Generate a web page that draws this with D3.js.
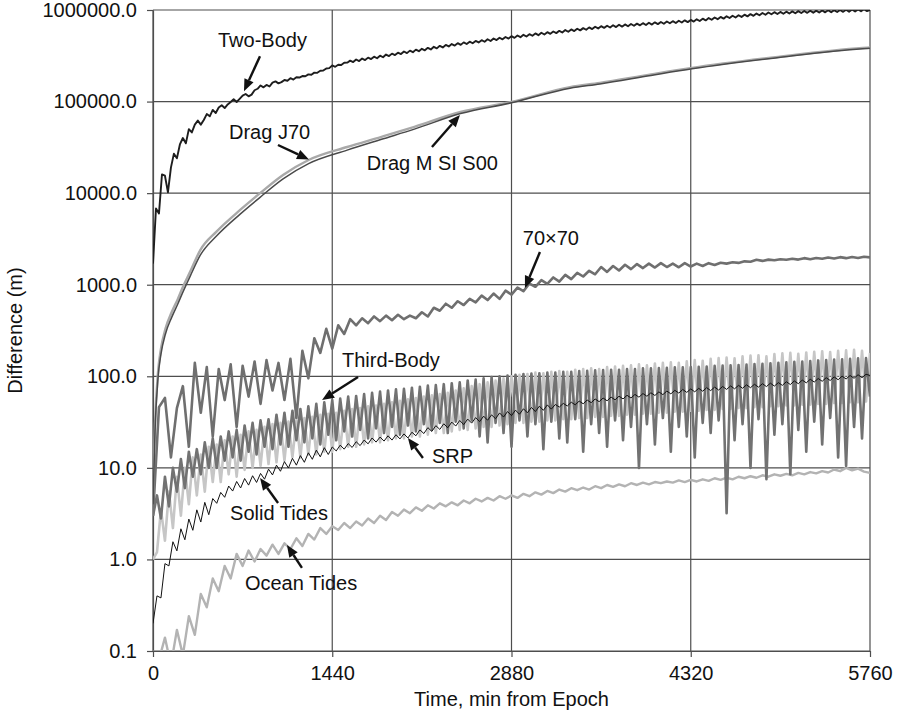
<!DOCTYPE html>
<html>
<head>
<meta charset="utf-8">
<script src="https://cdn.jsdelivr.net/npm/d3@7"></script>
<style>
  body { margin: 0; background: #fff; }
  svg { display: block; }
  text { font-family: "Liberation Sans", Arial, Helvetica, sans-serif; fill: #111; }
</style>
</head>
<body>
<svg id="chart" width="900" height="716"></svg>
<script>
// ---- axis ticks ----
const xTicks = [0, 1440, 2880, 4320, 5760];
const yTicks = [0.1, 1, 10, 100, 1000, 10000, 100000, 1000000];

// ---- sampling grids (minutes from epoch) ----
const twoBodyTimes = d3.range(0, 5761, 24); // 241 samples
const fastTimes = d3.range(0, 5761, 32);    // 181 samples
const orbitTimes = d3.range(0, 5761, 48);   // 121 samples

// ---- Two-Body (twoBodyTimes) ----
const twoBody = [
  1.7e3, 6.8e3, 6.0e3, 16e3, 15.5e3, 10.2e3, 19e3, 27e3, 24e3, 34e3,
  40e3, 35e3, 50e3, 46e3, 56e3, 62e3, 56e3, 63e3, 73e3, 69e3,
  81e3, 75e3, 86e3, 91e3, 85e3, 93e3, 99e3, 106e3, 99e3, 107e3,
  116e3, 121e3, 114e3, 119e3, 133e3, 138e3, 150e3, 143e3, 152e3, 146e3,
  161e3, 166e3, 158e3, 163e3, 172e3, 169e3, 180e3, 174e3, 184e3, 183e3,
  190e3, 189e3, 198e3, 196e3, 207e3, 206e3, 217e3, 218e3, 230e3, 232e3,
  248e3, 240e3, 252e3, 251e3, 265e3, 266e3,
  280e3, 270e3, 288e3, 277e3, 295e3, 284e3, 302e3, 291e3, 309e3, 297e3,
  317e3, 305e3, 326e3, 314e3, 334e3, 322e3, 342e3, 330e3, 352e3, 338e3,
  360e3, 346e3, 369e3, 355e3, 377e3, 363e3, 386e3, 371e3, 396e3, 381e3,
  406e3, 390e3, 415e3, 400e3, 425e3, 409e3, 434e3, 416e3, 443e3, 425e3,
  451e3, 433e3, 459e3, 442e3, 468e3, 450e3, 479e3, 459e3, 488e3, 469e3,
  498e3, 478e3, 507e3, 488e3, 518e3, 496e3, 527e3, 505e3, 536e3, 514e3,
  545e3, 523e3, 555e3, 531e3, 564e3, 540e3, 573e3, 549e3, 582e3, 559e3,
  592e3, 568e3, 604e3, 579e3, 614e3, 589e3, 624e3, 599e3, 634e3, 608e3,
  646e3, 619e3, 656e3, 629e3, 666e3, 638e3, 673e3, 644e3, 681e3, 651e3,
  689e3, 658e3, 696e3, 665e3, 703e3, 673e3, 710e3, 680e3, 718e3, 686e3,
  726e3, 693e3, 733e3, 701e3, 740e3, 708e3, 748e3, 716e3, 755e3, 722e3,
  764e3, 730e3, 771e3, 737e3, 779e3, 747e3, 791e3, 759e3, 804e3, 770e3,
  816e3, 782e3, 828e3, 794e3, 841e3, 805e3, 853e3, 817e3, 865e3, 829e3,
  877e3, 840e3, 890e3, 852e3, 902e3, 864e3, 914e3, 876e3, 927e3, 887e3,
  939e3, 898e3, 947e3, 904e3, 953e3, 910e3, 959e3, 916e3, 966e3, 921e3,
  972e3, 927e3, 977e3, 931e3, 981e3, 935e3, 985e3, 939e3, 989e3, 943e3,
  993e3, 947e3, 997e3, 951e3, 1001e3, 955e3, 1007e3, 959e3, 1011e3, 964e3,
  1016e3, 968e3, 1021e3, 973e3, 1000e3];

// ---- Drag models ----
const dragTime = [0, 16, 40, 64, 100, 150, 200, 240, 300, 380, 510, 700, 860, 1045, 1250, 1560, 1830, 2100,
  2470, 2880, 3350, 3590, 4000, 4330, 5000, 5700, 5760];
const dragJ70 = [5, 30, 110, 200, 330, 500, 700, 945, 1400, 2390, 3800, 6550, 10000, 15800, 23000, 31900, 41000,
  53000, 77000, 99000, 144000, 160000, 198000, 233000, 305000, 385000, 390000];
const dragMSIS00 = [4, 25, 95, 175, 290, 440, 620, 830, 1250, 2100, 3400, 5900, 9000, 14300, 21000, 29500, 38500,
  50000, 74000, 97000, 140000, 156000, 193000, 228000, 300000, 378000, 382000];

// ---- 70x70 gravity field (orbitTimes) ----
const gravity70 = [3, 46, 58, 13, 45, 78, 17, 140, 40, 126, 22, 120, 55, 135, 28, 130, 60, 145, 50, 150,
  70, 140, 55, 155, 35, 190, 95, 260, 180, 330, 200, 360, 290, 420, 360, 430, 380, 450, 400, 460,
  410, 470, 420, 460, 430, 500, 450, 560, 520, 620, 560, 660, 600, 700, 640, 760, 680, 800, 700, 860,
  780, 930, 850, 1030, 950, 1120, 1020, 1200, 1080, 1280, 1150, 1350, 1230, 1420, 1300, 1560, 1380, 1600, 1430, 1650,
  1480, 1680, 1520, 1700, 1540, 1720, 1560, 1700, 1550, 1720, 1580, 1700, 1600, 1720, 1640, 1740, 1700, 1760, 1730, 1800,
  1780, 1870, 1820, 1880, 1850, 1900, 1870, 1920, 1880, 1950, 1900, 1960, 1920, 1980, 1930, 2000, 1950, 2010, 1960, 2020,
  1990];

// ---- Third-Body (fastTimes) ----
const thirdBody = [3, 5, 2.8, 8, 3.8, 10, 5.5, 12.5, 6, 15,
  8, 16, 8.5, 19, 10, 21, 10, 22, 12, 25,
  13, 26, 12, 29, 15, 31, 14, 33, 17, 34,
  16, 38, 18, 40, 17, 42, 20, 44, 19, 47,
  21, 50, 18, 52, 23, 55, 20, 57, 25, 60,
  22, 61, 26, 64, 21, 66, 27, 68, 24, 70,
  28, 72, 23, 73, 29, 75, 25, 77, 30, 79,
  26, 80, 31, 82, 24, 84, 32, 86, 27, 90,
  33, 92, 22, 95, 19, 98, 31, 100, 24, 102,
  17, 104, 33, 106, 22, 107, 30, 108, 16, 110,
  32, 110, 21, 112, 19, 112, 34, 114, 15, 115,
  30, 116, 24, 117, 17, 118, 33, 118, 20, 120,
  28, 120, 10, 122, 30, 122, 18, 123, 35, 124,
  15, 125, 28, 125, 22, 126, 13, 127, 31, 128,
  24, 130, 33, 131, 3.2, 132, 20, 133, 30, 134,
  10, 136, 34, 137, 7.5, 139, 23, 140, 30, 142,
  8.5, 144, 26, 145, 15, 147, 32, 149, 18, 150,
  35, 152, 13, 153, 10.5, 155, 28, 157, 21, 158,
  60];

// ---- Solid Tides (fastTimes) ----
const solidTides = [1.0, 1.2, 3.5, 1.6, 5.5, 2.2, 8, 3, 10, 4,
  13, 5, 14, 5.5, 17, 7, 18, 7, 20, 8.5,
  22, 8, 23, 9.5, 25, 10, 26, 10.5, 28, 11,
  30, 11.5, 31, 12, 32, 13, 33, 13, 35, 14,
  36, 14, 38, 15, 39, 15, 40, 16, 42, 17,
  44, 17, 45, 18, 47, 19, 48, 19, 50, 20,
  52, 21, 54, 21, 56, 22, 58, 22, 60, 23,
  62, 24, 64, 24, 66, 25, 70, 26, 74, 26,
  78, 27, 82, 28, 86, 28, 90, 29, 95, 30,
  100, 31, 104, 31, 106, 32, 110, 32, 108, 33,
  112, 33, 114, 34, 112, 34, 118, 35, 120, 35,
  122, 36, 120, 36, 126, 37, 128, 37, 130, 38,
  132, 38, 135, 39, 132, 39, 138, 40, 140, 40,
  142, 41, 140, 41, 146, 42, 150, 42, 148, 43,
  155, 43, 158, 44, 160, 44, 157, 45, 165, 45,
  168, 46, 170, 46, 165, 47, 175, 47, 178, 48,
  180, 48, 176, 49, 182, 49, 185, 50, 188, 50,
  184, 51, 190, 51, 192, 52, 195, 52, 190, 53,
  180];

// ---- Solar radiation pressure (fastTimes) ----
const srp = [0.2, 0.40, 0.38, 0.90, 0.85, 1.56, 1.24, 2.16, 1.64, 2.76,
  2.08, 3.48, 2.56, 4.2, 3.08, 4.62, 4.1, 5.39, 4.77, 6.33,
  5.58, 7.1, 6.03, 7.65, 6.48, 8.2, 6.93, 8.69, 7.52, 9.68,
  8.37, 10.7, 9.18, 11.7, 9.95, 12.7, 10.7, 13.6, 11.5, 14.6,
  12.4, 15.6, 13.2, 16.6, 14.0, 16.9, 15.3, 17.7, 16.0, 18.4,
  16.7, 19.3, 17.5, 20.1, 18.3, 21.2, 19.1, 21.7, 19.6, 22.4,
  20.1, 23.0, 20.7, 23.5, 21.2, 24.5, 22.4, 26.0, 23.7, 27.5,
  25.0, 28.9, 26.3, 30.3, 27.4, 31.6, 28.6, 32.9, 29.7, 34.1,
  30.8, 35.4, 32.0, 36.7, 33.1, 37.9, 34.4, 39.8, 35.9, 41.2,
  37.2, 42.7, 38.5, 44.2, 39.9, 45.7, 41.2, 47.2, 42.5, 48.7,
  43.8, 49.2, 46.1, 50.6, 47.4, 52.1, 48.8, 53.6, 50.1, 55.0,
  51.5, 56.5, 52.8, 57.9, 54.0, 59.3, 55.3, 60.6, 56.6, 62.0,
  57.9, 63.4, 59.1, 64.8, 60.5, 66.1, 61.7, 67.6, 63.0, 69.0,
  64.3, 70.3, 65.6, 71.8, 66.7, 72.8, 67.7, 73.9, 68.7, 75.1,
  69.8, 76.2, 70.8, 77.4, 71.9, 78.5, 73.0, 79.6, 74.0, 80.7,
  75.1, 81.8, 76.1, 83.0, 77.2, 84.1, 78.2, 85.3, 79.6, 87.2,
  81.3, 89.0, 83.0, 90.9, 84.8, 92.8, 86.5, 94.6, 88.2, 96.5,
  90.0, 98.4, 91.7, 100.3, 93.4, 102.1, 95.1, 104, 96.6, 105.2,
  102];

// ---- Ocean Tides (orbitTimes) ----
const oceanTides = [0.10, 0.08, 0.14, 0.07, 0.17, 0.09, 0.24, 0.15, 0.42, 0.3,
  0.62, 0.45, 0.85, 0.62, 1.15, 0.85, 1.25, 0.95, 1.3, 1.1,
  1.45, 1.15, 1.5, 1.3, 1.7, 1.4, 1.9, 1.65, 2.2, 1.9,
  2.3, 2.1, 2.5, 2.2, 2.6, 2.35, 2.8, 2.5, 3.0, 2.7,
  3.3, 3.0, 3.5, 3.2, 3.7, 3.4, 3.9, 3.6, 4.1, 3.8,
  4.2, 3.9, 4.4, 4.1, 4.6, 4.3, 4.7, 4.4, 4.9, 4.6,
  5.0, 4.7, 5.2, 4.9, 5.4, 5.1, 5.6, 5.3, 5.8, 5.5,
  6.0, 5.7, 6.1, 5.8, 6.3, 6.0, 6.5, 6.2, 6.6, 6.3,
  6.8, 6.5, 6.9, 6.6, 7.0, 6.8, 7.1, 6.9, 7.3, 7.0,
  7.4, 7.1, 7.5, 7.2, 7.7, 7.4, 7.8, 7.5, 8.0, 7.7,
  8.1, 7.8, 8.3, 8.0, 8.5, 8.2, 8.6, 8.3, 8.8, 8.5,
  9.0, 8.7, 9.2, 8.9, 9.6, 9.2, 10.0, 9.4, 9.8, 9.1,
  8.8];

// ---- layout ----
const svg = d3.select("#chart");
const plot = { left: 153, right: 870, top: 10, bottom: 651 };
const FONT = 20;
const GRID = "#4e4e4e";

const x = d3.scaleLinear().domain([0, 5760]).range([plot.left, plot.right]);
const y = d3.scaleLog().domain([0.1, 1e6]).range([plot.bottom, plot.top]);

svg.append("defs").append("clipPath").attr("id", "plot-clip")
  .append("rect")
  .attr("x", plot.left).attr("y", plot.top)
  .attr("width", plot.right - plot.left).attr("height", plot.bottom - plot.top);

// grid
const grid = svg.append("g").attr("stroke", GRID).attr("stroke-width", 1.2);
grid.selectAll("line.h").data(yTicks).join("line")
  .attr("x1", plot.left).attr("x2", plot.right)
  .attr("y1", d => y(d)).attr("y2", d => y(d));
grid.selectAll("line.v").data(xTicks).join("line")
  .attr("y1", plot.top).attr("y2", plot.bottom)
  .attr("x1", d => x(d)).attr("x2", d => x(d));

// axes
const yAxis = svg.append("g").attr("transform", `translate(${plot.left},0)`)
  .call(d3.axisLeft(y).tickValues(yTicks).tickFormat(d3.format(".1f")).tickSize(6).tickSizeOuter(0).tickPadding(10));
const xAxis = svg.append("g").attr("transform", `translate(0,${plot.bottom})`)
  .call(d3.axisBottom(x).tickValues(xTicks).tickFormat(d3.format("d")).tickSize(6).tickSizeOuter(0).tickPadding(9));
[yAxis, xAxis].forEach(g => {
  g.select(".domain").attr("stroke", GRID).attr("stroke-width", 1.2);
  g.selectAll(".tick line").attr("stroke", GRID).attr("stroke-width", 1.2);
  g.selectAll(".tick text").attr("font-size", FONT)
    .attr("font-family", "'Liberation Sans', Arial, sans-serif").attr("fill", "#111");
});

// axis titles
svg.append("text")
  .attr("x", (plot.left + plot.right) / 2).attr("y", 706)
  .attr("text-anchor", "middle").attr("font-size", FONT)
  .text("Time, min from Epoch");
svg.append("text")
  .attr("transform", `translate(22,${(plot.top + plot.bottom) / 2}) rotate(-90)`)
  .attr("text-anchor", "middle").attr("font-size", FONT)
  .text("Difference (m)");

// series
const jagged = d3.line().x(d => x(d[0])).y(d => y(d[1]));
const smooth = d3.line().x(d => x(d[0])).y(d => y(d[1])).curve(d3.curveMonotoneX);
const layer = svg.append("g").attr("clip-path", "url(#plot-clip)").attr("fill", "none")
  .attr("stroke-linejoin", "round");

const series = [
  { times: orbitTimes, values: oceanTides, color: "#b3b3b3", width: 2.4, gen: jagged },
  { times: orbitTimes, values: gravity70, color: "#6f6f6f", width: 2.6, gen: jagged },
  { times: fastTimes, values: solidTides, color: "#c6c6c6", width: 2.6, gen: jagged },
  { times: fastTimes, values: thirdBody, color: "#727272", width: 2.6, gen: jagged },
  { times: fastTimes, values: srp, color: "#111", width: 1.0, gen: jagged },
  { times: dragTime, values: dragJ70, color: "#a9a9a9", width: 2.4, gen: smooth },
  { times: dragTime, values: dragMSIS00, color: "#4a4a4a", width: 1.5, gen: smooth },
  { times: twoBodyTimes, values: twoBody, color: "#1e1e1e", width: 1.9, gen: jagged }
];
series.forEach(s => {
  layer.append("path")
    .attr("d", s.gen(d3.zip(s.times, s.values)))
    .attr("stroke", s.color).attr("stroke-width", s.width);
});

// annotations: arrow tip in data units, tail and label offsets in px from the tip
const notes = [
  { label: "Two-Body", t: 731, v: 130000, tail: [16, -35], text: [-26, -44], anchor: "start" },
  { label: "Drag J70", t: 1253, v: 23300, tail: [-31, -14.5], text: [-80, -20.5], anchor: "start" },
  { label: "Drag M SI S00", t: 2466, v: 71300, tail: [-28, 32], text: [38, 55], anchor: "end" },
  { label: "70\u00d770", t: 2988, v: 920, tail: [15, -36], text: [54, -43], anchor: "end" },
  { label: "Third-Body", t: 1358, v: 55, tail: [36, -23], text: [20, -33], anchor: "start" },
  { label: "SRP", t: 2048, v: 21.2, tail: [15, 20], text: [24, 25], anchor: "start" },
  { label: "Solid Tides", t: 860, v: 7.74, tail: [18, 25], text: [-30, 42], anchor: "start" },
  { label: "Ocean Tides", t: 1076, v: 1.44, tail: [15, 23], text: [-42, 45], anchor: "start" }
];
const ann = svg.append("g");
notes.forEach(n => {
  const tx = x(n.t), ty = y(n.v);
  const sx = tx + n.tail[0], sy = ty + n.tail[1];
  const ang = Math.atan2(ty - sy, tx - sx);
  const headLen = 12, headHalf = 5;
  const bx = tx - headLen * Math.cos(ang), by = ty - headLen * Math.sin(ang);
  ann.append("line")
    .attr("x1", sx).attr("y1", sy).attr("x2", bx).attr("y2", by)
    .attr("stroke", "#111").attr("stroke-width", 2.4);
  const px = -Math.sin(ang), py = Math.cos(ang);
  ann.append("path")
    .attr("d", `M${tx},${ty}L${bx + px * headHalf},${by + py * headHalf}L${bx - px * headHalf},${by - py * headHalf}Z`)
    .attr("fill", "#111");
  ann.append("text")
    .attr("x", tx + n.text[0]).attr("y", ty + n.text[1])
    .attr("text-anchor", n.anchor).attr("font-size", FONT)
    .text(n.label);
});
</script>
</body>
</html>
